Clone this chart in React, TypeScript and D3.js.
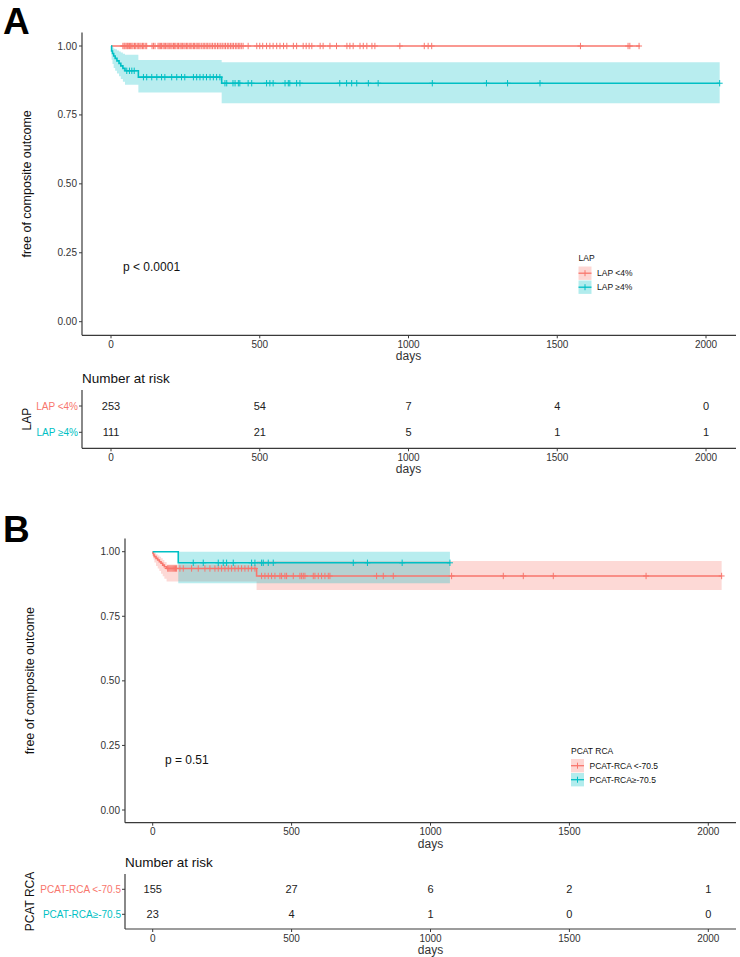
import React from "react";
import * as d3 from "d3";

// ---------- shared ----------
const timeTicks = [0, 500, 1000, 1500, 2000];
const survTicks = [0, 0.25, 0.5, 0.75, 1];
const survTickLabels = ["0.00", "0.25", "0.50", "0.75", "1.00"];
const groupColors = ["#F8766D", "#00BFC4"];
const yTitle = "free of composite outcome";
const xTitle = "days";

// ---------- panel A: LAP ----------
const lapTitle = "LAP";
const lapGroups = ["LAP <4%", "LAP ≥4%"];
const lapP = "p < 0.0001";
const lapLowTime = [0, 1778];
const lapLowSurv = [1, 1];
const lapLowLower = [1, 1];
const lapLowUpper = [1, 1];
const lapHighTime = [0, 2, 5, 9, 14, 20, 27, 33, 40, 47, 92, 372, 2046];
const lapHighSurv = [1, 0.982, 0.973, 0.964, 0.955, 0.946, 0.937, 0.928, 0.919, 0.91, 0.887, 0.865, 0.865];
const lapHighLower = [1, 0.95, 0.935, 0.92, 0.91, 0.9, 0.89, 0.88, 0.87, 0.859, 0.831, 0.792, 0.792];
const lapHighUpper = [1, 1, 0.995, 0.99, 0.988, 0.984, 0.98, 0.976, 0.972, 0.968, 0.949, 0.941, 0.941];
const lapLowCensor = [
  40, 44, 47, 51, 55, 58, 62, 66, 70, 74, 79, 83, 88, 92, 97, 101, 106, 110, 115, 120, 138, 143, 148,
  158, 162, 166, 170, 175, 179, 183, 188, 192, 196, 201, 205, 210, 214, 218, 223, 227, 232, 236, 240,
  245, 249, 254, 258, 263, 268, 272, 277, 281, 286, 290, 295, 299, 305, 310, 315, 320, 325, 330, 336,
  341, 347, 352, 358, 363, 369, 374, 380, 385, 391, 396, 402, 407, 412, 418, 423, 428, 433, 438, 444,
  461, 490, 500, 510, 523, 534, 545, 557, 568, 580, 591, 613, 624, 646, 656, 666, 675, 703, 713, 736,
  758, 793, 803, 814, 837, 848, 860, 877, 887, 971, 1053, 1066, 1078, 1578, 1738, 1744, 1775,
];
const lapHighCensor = [
  53, 62, 70, 78, 109, 120, 137, 154, 170, 181, 204, 221, 237, 248, 277, 288, 299, 310, 321, 333, 344,
  355, 366, 383, 389, 410, 417, 428, 433, 461, 473, 523, 534, 545, 585, 596, 601, 624, 635, 769, 792,
  809, 826, 865, 898, 1080, 1262, 1333, 1442, 2046,
];
const lapLowRisk = [253, 54, 7, 4, 0];
const lapHighRisk = [111, 21, 5, 1, 1];

// ---------- panel B: PCAT RCA ----------
const pcatTitle = "PCAT RCA";
const pcatGroups = ["PCAT-RCA <-70.5", "PCAT-RCA≥-70.5"];
const pcatP = "p = 0.51";
const pcatLowTime = [0, 1, 3, 6, 12, 18, 24, 30, 36, 42, 50, 374, 2048];
const pcatLowSurv = [1, 0.994, 0.987, 0.981, 0.974, 0.968, 0.961, 0.955, 0.948, 0.942, 0.935, 0.906, 0.906];
const pcatLowLower = [1, 0.98, 0.97, 0.958, 0.945, 0.935, 0.925, 0.915, 0.905, 0.895, 0.885, 0.852, 0.852];
const pcatLowUpper = [1, 1, 0.999, 0.996, 0.99, 0.985, 0.98, 0.975, 0.968, 0.96, 0.95, 0.964, 0.964];
const pcatHighTime = [0, 92, 1070];
const pcatHighSurv = [1, 0.957, 0.957];
const pcatHighLower = [1, 0.878, 0.878];
const pcatHighUpper = [1, 1, 1];
const pcatLowCensor = [
  54, 58, 62, 66, 70, 74, 78, 82, 86, 98, 110, 140, 164, 188, 206, 224, 236, 248, 260, 272, 284, 296,
  308, 320, 332, 344, 356, 368, 392, 404, 416, 428, 440, 458, 464, 476, 482, 506, 530, 536, 542, 548,
  578, 584, 596, 608, 620, 632, 638, 806, 830, 866, 1076, 1262, 1334, 1442, 1776, 2048,
];
const pcatHighCensor = [146, 182, 236, 254, 266, 290, 356, 368, 392, 398, 416, 434, 722, 773, 898, 1070];
const pcatLowRisk = [155, 27, 6, 2, 1];
const pcatHighRisk = [23, 4, 1, 0, 0];

const FONT = "'Liberation Sans', Arial, Helvetica, sans-serif";
const AXIS = "#3a3a3a";
const TXT = "#333333";

type Curve = { time: number[]; surv: number[]; lower: number[]; upper: number[]; censor: number[] };

type Cfg = {
  letter: string; letterY: number;
  xLeft: number; xRight: number; x0: number; x2000: number;
  yTop: number; y1: number; y0: number; axisY: number;
  yLabX: number; pX: number; pY: number;
  legX: number; legTitleY: number;
  riskTitleY: number; riskTop: number; riskRow1: number; riskRow2: number; riskAxisY: number; riskLabX: number;
};

function Panel(props: {
  cfg: Cfg; curves: Curve[]; groups: string[]; title: string; pText: string; risks: number[][];
}) {
  const { cfg, curves, groups, title, pText, risks } = props;
  const x = d3.scaleLinear().domain([0, 2000]).range([cfg.x0, cfg.x2000]);
  const y = d3.scaleLinear().domain([0, 1]).range([cfg.y0, cfg.y1]);
  const riskY = d3.scalePoint<number>().domain([0, 1]).range([cfg.riskRow1, cfg.riskRow2]);

  const bands = curves.map((c) => {
    const idx = d3.range(c.time.length);
    return d3
      .area<number>()
      .x((i) => x(c.time[i]))
      .y0((i) => y(c.lower[i]))
      .y1((i) => y(c.upper[i]))
      .curve(d3.curveStepAfter)(idx) as string;
  });
  const lines = curves.map((c) => {
    const idx = d3.range(c.time.length);
    return d3
      .line<number>()
      .x((i) => x(c.time[i]))
      .y((i) => y(c.surv[i]))
      .curve(d3.curveStepAfter)(idx) as string;
  });
  const survAt = (c: Curve, t: number) => {
    const i = Math.max(0, d3.bisectRight(c.time, t) - 1);
    return c.surv[i];
  };

  const xAxis = (yy: number, showTitle: boolean) => (
    <g>
      <line x1={cfg.xLeft} x2={cfg.xRight} y1={yy} y2={yy} stroke={AXIS} strokeWidth={1.2} />
      {timeTicks.map((t) => (
        <g key={t}>
          <line x1={x(t)} x2={x(t)} y1={yy} y2={yy + 3} stroke={AXIS} strokeWidth={1} />
          <text x={x(t)} y={yy + 12.5} textAnchor="middle" fontSize={10} fill={TXT}>{t}</text>
        </g>
      ))}
      {showTitle && (
        <text x={x(1000)} y={yy + 25} textAnchor="middle" fontSize={12} fill={TXT}>{xTitle}</text>
      )}
    </g>
  );

  return (
    <g fontFamily={FONT}>
      <text x={3} y={cfg.letterY} fontSize={37} fontWeight="bold" fill="#000">{cfg.letter}</text>

      {/* survival plot */}
      {bands.map((d, i) => (
        <path key={"b" + i} d={d} fill={groupColors[i]} fillOpacity={0.28} stroke="none" />
      ))}
      {lines.map((d, i) => (
        <path key={"l" + i} d={d} fill="none" stroke={groupColors[i]} strokeWidth={1.6} />
      ))}
      {curves.map((c, gi) =>
        c.censor.map((t, k) => {
          const cx = x(t);
          const cy = y(survAt(c, t));
          return (
            <g key={gi + "-" + k} stroke={groupColors[gi]} strokeWidth={1}>
              <line x1={cx} x2={cx} y1={cy - 3.2} y2={cy + 3.2} />
              <line x1={cx - 3} x2={cx + 3} y1={cy} y2={cy} />
            </g>
          );
        })
      )}

      {/* y axis */}
      <line x1={cfg.xLeft} x2={cfg.xLeft} y1={cfg.yTop} y2={cfg.axisY} stroke={AXIS} strokeWidth={1.2} />
      {survTicks.map((v, i) => (
        <g key={v}>
          <line x1={cfg.xLeft - 3} x2={cfg.xLeft} y1={y(v)} y2={y(v)} stroke={AXIS} strokeWidth={1} />
          <text x={cfg.xLeft - 5} y={y(v) + 3.5} textAnchor="end" fontSize={10} fill={TXT}>{survTickLabels[i]}</text>
        </g>
      ))}
      <text
        transform={`translate(${cfg.yLabX},${(cfg.yTop + cfg.axisY) / 2}) rotate(-90)`}
        textAnchor="middle"
        fontSize={12.5}
        fill="#111"
      >
        {yTitle}
      </text>
      {xAxis(cfg.axisY, true)}

      <text x={cfg.pX} y={cfg.pY} fontSize={12} fill="#111">{pText}</text>

      {/* legend */}
      <text x={cfg.legX} y={cfg.legTitleY} fontSize={8.5} fill="#111">{title}</text>
      {groups.map((g, i) => {
        const top = cfg.legTitleY + 5.5 + i * 14;
        const cy = top + 6.7;
        return (
          <g key={g}>
            <rect x={cfg.legX} y={top} width={13} height={13.4} fill={groupColors[i]} fillOpacity={0.3} />
            <line x1={cfg.legX} x2={cfg.legX + 13} y1={cy} y2={cy} stroke={groupColors[i]} strokeWidth={1.3} />
            <line x1={cfg.legX + 6.5} x2={cfg.legX + 6.5} y1={cy - 3} y2={cy + 3} stroke={groupColors[i]} strokeWidth={1} />
            <text x={cfg.legX + 18.5} y={cy + 3} fontSize={8.5} fill="#111">{g}</text>
          </g>
        );
      })}

      {/* risk table */}
      <text x={cfg.xLeft} y={cfg.riskTitleY} fontSize={13.5} fill="#111">Number at risk</text>
      <line x1={cfg.xLeft} x2={cfg.xLeft} y1={cfg.riskTop} y2={cfg.riskAxisY} stroke={AXIS} strokeWidth={1.2} />
      {groups.map((g, i) => (
        <g key={"r" + g}>
          <line x1={cfg.xLeft - 3} x2={cfg.xLeft} y1={riskY(i)} y2={riskY(i)} stroke={AXIS} strokeWidth={1} />
          <text x={cfg.xLeft - 4} y={(riskY(i) as number) + 3.5} textAnchor="end" fontSize={10} fill={groupColors[i]}>{g}</text>
          {risks[i].map((n, k) => (
            <text key={k} x={x(timeTicks[k])} y={(riskY(i) as number) + 4} textAnchor="middle" fontSize={11} fill="#222">{n}</text>
          ))}
        </g>
      ))}
      <text
        transform={`translate(${cfg.riskLabX},${(cfg.riskTop + cfg.riskAxisY) / 2}) rotate(-90)`}
        textAnchor="middle"
        fontSize={12}
        fill="#111"
      >
        {title}
      </text>
      {xAxis(cfg.riskAxisY, true)}
    </g>
  );
}

const cfgA: Cfg = {
  letter: "A", letterY: 33.5,
  xLeft: 82, xRight: 736, x0: 111, x2000: 706,
  yTop: 32.5, y1: 46, y0: 321.7, axisY: 335.3,
  yLabX: 31, pX: 123, pY: 271,
  legX: 578.5, legTitleY: 261,
  riskTitleY: 383, riskTop: 390, riskRow1: 406, riskRow2: 432.3, riskAxisY: 448.3, riskLabX: 30.5,
};
const cfgB: Cfg = {
  letter: "B", letterY: 542,
  xLeft: 125, xRight: 736, x0: 152.7, x2000: 708.3,
  yTop: 538.5, y1: 551.7, y0: 810, axisY: 822.7,
  yLabX: 34, pX: 165, pY: 764,
  legX: 571, legTitleY: 753.5,
  riskTitleY: 867, riskTop: 874, riskRow1: 889.3, riskRow2: 914.3, riskAxisY: 929, riskLabX: 34,
};

export default function App() {
  const curvesA: Curve[] = [
    { time: lapLowTime, surv: lapLowSurv, lower: lapLowLower, upper: lapLowUpper, censor: lapLowCensor },
    { time: lapHighTime, surv: lapHighSurv, lower: lapHighLower, upper: lapHighUpper, censor: lapHighCensor },
  ];
  const curvesB: Curve[] = [
    { time: pcatLowTime, surv: pcatLowSurv, lower: pcatLowLower, upper: pcatLowUpper, censor: pcatLowCensor },
    { time: pcatHighTime, surv: pcatHighSurv, lower: pcatHighLower, upper: pcatHighUpper, censor: pcatHighCensor },
  ];
  return (
    <svg
      width={740}
      height={957}
      viewBox="0 0 740 957"
      style={{ position: "absolute", left: 0, top: 0, background: "#fff" }}
    >
      <rect x={0} y={0} width={740} height={957} fill="#fff" />
      <Panel cfg={cfgA} curves={curvesA} groups={lapGroups} title={lapTitle} pText={lapP} risks={[lapLowRisk, lapHighRisk]} />
      <Panel cfg={cfgB} curves={curvesB} groups={pcatGroups} title={pcatTitle} pText={pcatP} risks={[pcatLowRisk, pcatHighRisk]} />
    </svg>
  );
}
